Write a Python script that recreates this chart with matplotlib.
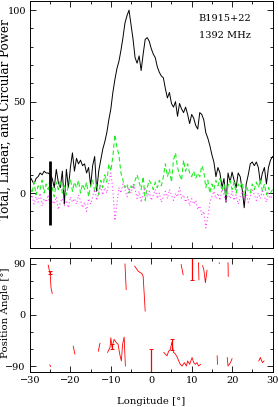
import numpy as np
import matplotlib
matplotlib.use("Agg")
import matplotlib.pyplot as plt
from matplotlib.ticker import MultipleLocator

# ---------------- data ----------------
lon = np.arange(-30.0, 30.01, 0.5)

total = [9, 7, 5, 8, 9, 11, 10, 12, 11, 11,
         10, 8, 3, 13, 6, 3, 12, -6, 13, 3,
         14, 22, 12, 19, 16, 18, 15, 16, 11, 14,
         4, 15, 20, 1, 12, 18, 24, 28, 33, 40,
         46, 55, 62, 68, 72, 78, 85, 93, 97, 100,
         92, 84, 74, 71, 75, 67, 76, 84, 85, 83,
         79, 76, 74, 69, 66, 64, 63, 57, 52, 55,
         49, 47, 50, 42, 49, 46, 44, 47, 43, 38,
         43, 41, 37, 35, 44, 43, 40, 33, 30, 26,
         21, 17, 9, 14, 11, 3, 8, -5, 11, 6,
         11.5, 7, 3, 11, 9, 2, -8, 5, 10, 16,
         17, 15, 17, 14, 5.5, 11, 14, 5, 14, 18,
         20]

linear = [3, 0, 6, -1, 4, 2, 7, 0, 5, 2,
          8, 3, -2, 6, 2, 7, 0, 5, -1, 4,
          8, 1, 6, 3, 7, 0, 5, 2, 6, -2,
          4, 7, 1, 5, -1, 7, 3, 10, 6, 16,
          12, 20, 32, 25, 21, 11, 7, 3, 5, 0,
          4, 2, 7, 10, 6, 2, 9, -4, 3, 7,
          5, 2, 6, 3, 7, 4, 9, 16, 9, 13,
          6, 18, 22, 14, 10, 7, 18, 12, 16, 11,
          9, 12, 8, 11, 9, 15, 12, 3, 7, 0,
          5, 2, 7, 4, 8, 1, 5, -2, 4, 7,
          2, 6, 0, 5, 3, 6, -1, 4, 1, 0,
          5, 2, 6, 3, 7, 1, 5, -1, 3, 0,
          2]

circular = [-4, -1, -6, -2, -5, 0, -7, -3, -5, -1,
            -8, -4, -6, -2, -9, -5, -3, -7, -4, -8,
            -2, -5, -3, -6, -1, -4, -8, -5, -10, -3,
            -6, -2, 2, -4, 0, 4, -1, 3, 0, 6,
            11, 2, -15, -6, 3, 0, 5, 2, -2, 3,
            0, 5, 2, -3, 1, -5, 0, 3, -2, 1,
            -4, -1, 2, -3, 0, -5, -2, 1, -3, 2,
            -1, -4, 0, -2, 3, -3, -1, -5, -2, -7,
            -3, -6, -4, -9, -7, -12, -10, -19, -13, -5,
            -2, 1, -3, 0, -4, 2, -1, -5, 0, -3,
            1, -4, -1, -6, -2, 1, -3, 0, -5, -2,
            2, -1, -4, 0, -3, 1, -2, -5, 0, -3,
            -1]

nan = np.nan
pa_lon = [-25.5, -25.0, -24.8, -24.5, nan,
          -25.1, -24.9, nan,
          -19.3, -18.9, nan,
          -13.1, -12.7, nan,
          -10.8, -10.2, -10.0, -9.7, -9.2, -8.6, -8.2, -7.8, -7.4, -7.1, -6.7, -6.4, nan,
          -6.5, -6.2, nan,
          -4.1, -3.2, -2.3, -2.0, -1.5, nan,
          3.1, 3.9, 4.3, 4.7, 5.1, 5.5, 5.9, 6.4, 6.8, 7.2, 7.6, 8.2, 8.7, 9.0,
          9.5, 10.1, 10.5, 10.9, 11.3, 11.7, 12.2, nan,
          16.3, 16.4, nan,
          18.8, 19.0, 19.6, 20.0, nan,
          26.6, 27.0, 27.5, 27.9, nan,
          7.4, 7.9, nan,
          11.7, 11.8, nan,
          12.7, 13.0, 13.4, 13.8, nan,
          16.8, 16.9, nan,
          19.0, 19.05]
pa_val = [88, 72, 48, 38, nan,
          -88, -91, nan,
          -55, -69, nan,
          -64, -50, nan,
          -66, -57, -40, -57, -43, -49, -52, -69, -81, -52, -39, -90, nan,
          90, 45, nan,
          86, 77, 73, 68, 7, nan,
          -66, -72, -64, -61, -48, -66, -68, -74, -81, -87, -90, -84, -90, -81,
          -87, -75, -84, -87, -84, -90, -87, nan,
          -72, -87, nan,
          -75, -90, -84, -77, nan,
          -81, -75, -84, -81, nan,
          89, 71, nan,
          92, 62, nan,
          87, 80, 57, 79, nan,
          92, 91, nan,
          92, 68]

pa_err_lon = [-25.0, -9.8, 0.0, 5.1, 10.0]
pa_err_val = [75, -56, -80, -52, 82]
pa_err = [3, 4, 20, 9, 20]

i_err_lon = [-25.1]
i_err = [17.5]

psr_name = "B1915+22"
freq_label = "1392 MHz"

# ---------------- figure ----------------
plt.rcParams['font.family'] = ['DejaVu Serif']
fs = 7

fig = plt.figure(figsize=(2.78, 4.07), dpi=100)
ax1 = fig.add_axes([30/278, 1 - 248/407, 242.5/278, 247/407])
ax2 = fig.add_axes([30/278, 1 - 371.7/407, 242.5/278, 113.4/407])

ax1.plot(lon, total, color='black', lw=0.7)
ax1.plot(lon, linear, color='#22ee22', lw=0.8, ls=(0, (4, 2.5)))
ax1.plot(lon, circular, color='#ff44ff', lw=0.8, ls=(0, (1, 2.2)))
ax1.errorbar(i_err_lon, [0], yerr=i_err, fmt='none', ecolor='black', elinewidth=2, capsize=0)

ax1.set_xlim(-30, 30)
ax1.set_ylim(-30, 105)
ax1.xaxis.set_major_locator(MultipleLocator(10))
ax1.xaxis.set_minor_locator(MultipleLocator(5))
ax1.yaxis.set_major_locator(MultipleLocator(50))
ax1.yaxis.set_minor_locator(MultipleLocator(10))
ax1.tick_params(axis='x', labelbottom=False)
ax1.text(11.7, 95.5, psr_name, fontsize=fs, ha='left', va='center')
ax1.text(11.7, 86.3, freq_label, fontsize=fs, ha='left', va='center')

ax2.plot(pa_lon, pa_val, color='red', lw=0.6)
ax2.errorbar(pa_err_lon, pa_err_val, yerr=pa_err, fmt='none', ecolor='red',
             elinewidth=0.9, capsize=1.2, capthick=0.7)
ax2.set_xlim(-30, 30)
ax2.set_ylim(-100, 100)
ax2.xaxis.set_major_locator(MultipleLocator(10))
ax2.xaxis.set_minor_locator(MultipleLocator(5))
ax2.yaxis.set_major_locator(MultipleLocator(90))
ax2.yaxis.set_minor_locator(MultipleLocator(30))

fig.text(5.5/278, 1 - 120/407, "Total, Linear, and Circular Power", fontsize=8.6,
         rotation=90, ha='center', va='center')
fig.text(5.5/278, 1 - 313/407, "Position Angle [°]", fontsize=7.4,
         rotation=90, ha='center', va='center')
fig.text(151/278, 1 - 401/407, "Longitude [°]", fontsize=7.3,
         ha='center', va='center')

for ax in (ax1, ax2):
    ax.tick_params(which='both', direction='in', top=True, right=True,
                   labelsize=fs, width=0.6, pad=3)
    ax.tick_params(which='major', length=4.5)
    ax.tick_params(which='minor', length=2.5)
    for s in ax.spines.values():
        s.set_linewidth(0.7)

fig.savefig("out.png", dpi=100)
